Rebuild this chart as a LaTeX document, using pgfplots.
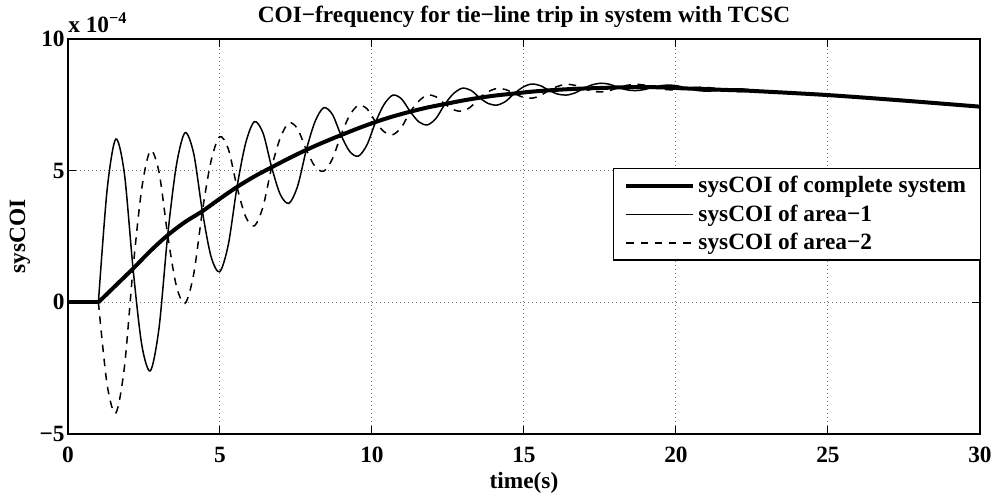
\documentclass[border=0pt]{standalone}
\usepackage{fontspec}
\setmainfont{Liberation Serif}
\usepackage{pgfplots}
\pgfplotsset{compat=1.18}
\begin{document}
\begin{tikzpicture}
\begin{axis}[
  name=ax,
  scale only axis,
  clip mode=individual,
  width=547.2pt, height=237pt,
  xmin=0, xmax=30, ymin=-5, ymax=10,
  xtick={0,5,10,15,20,25,30},
  xticklabels={0,5,10,15,20,25,30},
  ytick={-5,0,5,10},
  yticklabels={−5,0,5,10},
  tick align=inside,
  major tick length=5pt,
  every tick/.style={black, line width=0.6pt},
  axis line style={line width=0.8pt},
  grid=major,
  grid style={black!55, line width=0.6pt, dash pattern=on 0.6pt off 1.8pt},
  tick label style={font=\fontsize{14}{16}\selectfont\bfseries},
  xticklabel style={yshift=-4.5pt},
  yticklabel style={xshift=1.5pt},
  every axis title/.style={at={(0.5,1.0557)}, anchor=center, font=\fontsize{14}{16}\selectfont\bfseries},
  title={COI−frequency for tie−line trip in system with TCSC},
  xlabel={time(s)},
  xlabel style={at={(axis description cs:0.5,-0.1241)}, anchor=center, font=\fontsize{14}{16}\selectfont\bfseries},
  ylabel={sysCOI},
  ylabel style={at={(axis description cs:-0.0526,0.5)}, anchor=center, font=\fontsize{14}{16}\selectfont\bfseries},
  legend style={at={(axis description cs:1.001,0.556)}, anchor=east, draw=black, line width=0.8pt,
    font=\fontsize{14}{16}\selectfont\bfseries, cells={anchor=west}, row sep=1.8pt, inner xsep=6.5pt, inner ysep=2.5pt},
  legend image code/.code={\draw[#1] (0pt,0pt) -- (40pt,0pt);},
]
\addplot[black, line width=2.4pt, forget plot] coordinates {(0,0) (1,0)};
\addplot[black, line width=2.4pt, smooth] coordinates {
(1,0)(1.57,0.64)(2.14,1.28)(2.71,1.95)(3.28,2.55)(3.85,3.05)(4.42,3.46)(4.99,3.93)(5.56,4.38)(6.13,4.78)(6.70,5.13)(7.27,5.47)(7.84,5.79)(8.41,6.08)(8.98,6.35)(9.55,6.61)(10.12,6.85)(10.69,7.06)(11.26,7.24)(11.83,7.40)(12.40,7.53)(12.97,7.66)(13.54,7.77)(14.11,7.86)(14.68,7.93)(15.25,8.00)(15.82,8.05)(16.39,8.09)(16.96,8.12)(17.53,8.14)(18.10,8.16)(18.67,8.17)(19.24,8.17)(19.81,8.15)(20.38,8.12)(20.95,8.10)(21.52,8.07)(22.09,8.05)(22.66,8.02)(25,7.87)(27.5,7.66)(30,7.43)};
\addlegendentry{sysCOI of complete system}
\addplot[black, line width=0.9pt, smooth] coordinates {
(1.000,0)(1.285,4.25)(1.570,6.20)(1.855,4.89)(2.140,1.28)(2.425,-1.60)(2.710,-2.60)(2.995,-0.97)(3.280,2.55)(3.565,5.20)(3.850,6.44)(4.135,5.65)(4.420,3.46)(4.705,1.74)(4.990,1.16)(5.275,2.20)(5.560,4.38)(5.845,6.05)(6.130,6.86)(6.415,6.43)(6.700,5.13)(6.985,4.09)(7.270,3.76)(7.555,4.42)(7.840,5.79)(8.125,6.86)(8.410,7.39)(8.695,7.14)(8.980,6.35)(9.265,5.73)(9.550,5.55)(9.835,5.98)(10.120,6.85)(10.405,7.53)(10.690,7.87)(10.975,7.72)(11.260,7.24)(11.545,6.85)(11.830,6.74)(12.115,7.00)(12.400,7.53)(12.685,7.93)(12.970,8.13)(13.255,8.05)(13.540,7.77)(13.825,7.55)(14.110,7.49)(14.395,7.63)(14.680,7.93)(14.965,8.17)(15.250,8.29)(15.535,8.23)(15.820,8.05)(16.105,7.91)(16.390,7.87)(16.675,7.95)(16.960,8.12)(17.245,8.26)(17.530,8.32)(17.815,8.28)(18.100,8.16)(18.385,8.07)(18.670,8.04)(18.955,8.08)(19.240,8.17)(19.525,8.23)(19.810,8.25)(20.095,8.21)(20.380,8.12)(20.665,8.05)(20.950,8.02)(21.235,8.03)(21.520,8.07)(21.805,8.10)(22.090,8.11)(22.375,8.08)(22.660,8.02)(25,7.87)(27.5,7.66)(30,7.43)};
\addlegendentry{sysCOI of area−1}
\addplot[black, line width=0.9pt, smooth, dash pattern=on 4.5pt off 4pt] coordinates {
(1.000,0)(1.285,-3.11)(1.570,-4.21)(1.855,-2.47)(2.140,1.28)(2.425,4.31)(2.710,5.76)(2.995,4.94)(3.280,2.55)(3.565,0.62)(3.850,-0.04)(4.135,1.07)(4.420,3.46)(4.705,5.36)(4.990,6.29)(5.275,5.82)(5.560,4.38)(5.845,3.25)(6.130,2.90)(6.415,3.63)(6.700,5.13)(6.985,6.25)(7.270,6.82)(7.555,6.58)(7.840,5.79)(8.125,5.16)(8.410,4.98)(8.695,5.44)(8.980,6.35)(9.265,7.10)(9.550,7.48)(9.835,7.35)(10.120,6.85)(10.405,6.47)(10.690,6.37)(10.975,6.66)(11.260,7.24)(11.545,7.65)(11.830,7.87)(12.115,7.80)(12.400,7.53)(12.685,7.31)(12.970,7.26)(13.255,7.43)(13.540,7.77)(13.825,8.00)(14.110,8.12)(14.395,8.08)(14.680,7.93)(14.965,7.79)(15.250,7.75)(15.535,7.85)(15.820,8.05)(16.105,8.20)(16.390,8.28)(16.675,8.24)(16.960,8.12)(17.245,8.02)(17.530,7.99)(17.815,8.04)(18.100,8.16)(18.385,8.24)(18.670,8.28)(18.955,8.25)(19.240,8.17)(19.525,8.10)(19.810,8.07)(20.095,8.08)(20.380,8.12)(20.665,8.16)(20.950,8.17)(21.235,8.13)(21.520,8.07)(21.805,8.03)(22.090,8.00)(22.375,8.00)(22.660,8.02)(25,7.87)(27.5,7.66)(30,7.43)};
\addlegendentry{sysCOI of area−2}
\node[anchor=base west, inner sep=0pt, font=\fontsize{14}{16}\selectfont\bfseries] at (axis description cs:0,1.0177) {x 10\textsuperscript{−4}};
\end{axis}
\pgfresetboundingbox
\path[use as bounding box] (-40.8pt,-36pt) rectangle (557.4pt,260.4pt);
\end{tikzpicture}
\end{document}
